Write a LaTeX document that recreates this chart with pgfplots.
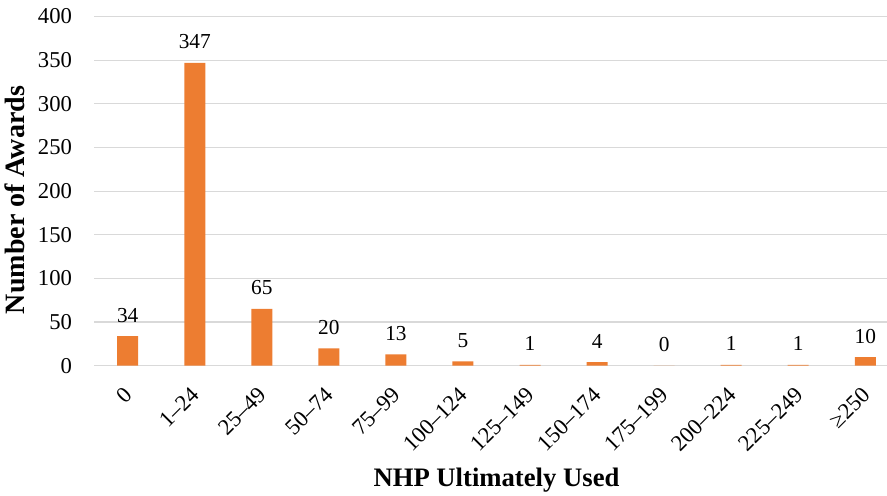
\documentclass[border=0pt]{standalone}
\usepackage{fontspec}
\setmainfont{Liberation Serif}
\usepackage{pgfplots}
\pgfplotsset{compat=1.18}
\definecolor{barc}{HTML}{ED7D31}
\definecolor{gridc}{HTML}{D9D9D9}
\begin{document}
\begin{tikzpicture}
\useasboundingbox (-70.65pt,-96.97pt) rectangle (594.6pt,274.3pt);
\begin{axis}[
  at={(0,0)}, anchor=south west,
  scale only axis,
  width=594.6pt, height=261.9pt,
  ybar, bar width=15.75pt,
  xmin=-0.5, xmax=11.324,
  ymin=0, ymax=400,
  ytick={0,50,...,400},
  xtick={0,...,11},
  xticklabels={0,1–24,25–49,50–74,75–99,100–124,125–149,150–174,175–199,200–224,225–249,≥250},
  axis line style={draw=none},
  major tick length=0pt,
  ymajorgrids, grid style={gridc, line width=0.9pt},
  clip=false,
  /pgf/number format/assume math mode=true,
  yticklabel style={font=\fontsize{17}{20}\selectfont, anchor=east, inner sep=0pt, xshift=-16.5pt},
  xticklabel style={font=\fontsize{17}{20}\selectfont, xshift=0.6pt, yshift=-19pt, rotate=45, anchor=east, inner sep=0pt},
  nodes near coords,
  every node near coord/.append style={font=\fontsize{16}{18}\selectfont, anchor=base, inner sep=0pt, yshift=10.5pt},
  every axis y label/.style={at={(axis description cs:-0.0873,0.4746)}, rotate=90, anchor=base},
  every axis x label/.style={at={(axis description cs:0.5074,-0.3444)}, anchor=base},
  ylabel={\fontsize{21}{24}\selectfont\bfseries Number of Awards},
  xlabel={\fontsize{20}{24}\selectfont\bfseries NHP Ultimately Used},
]
\addplot[fill=barc, draw=none] coordinates {
(0,34) (1,347) (2,65) (3,20) (4,13) (5,5) (6,1) (7,4) (8,0) (9,1) (10,1) (11,10)
};
\end{axis}
\end{tikzpicture}
\end{document}
